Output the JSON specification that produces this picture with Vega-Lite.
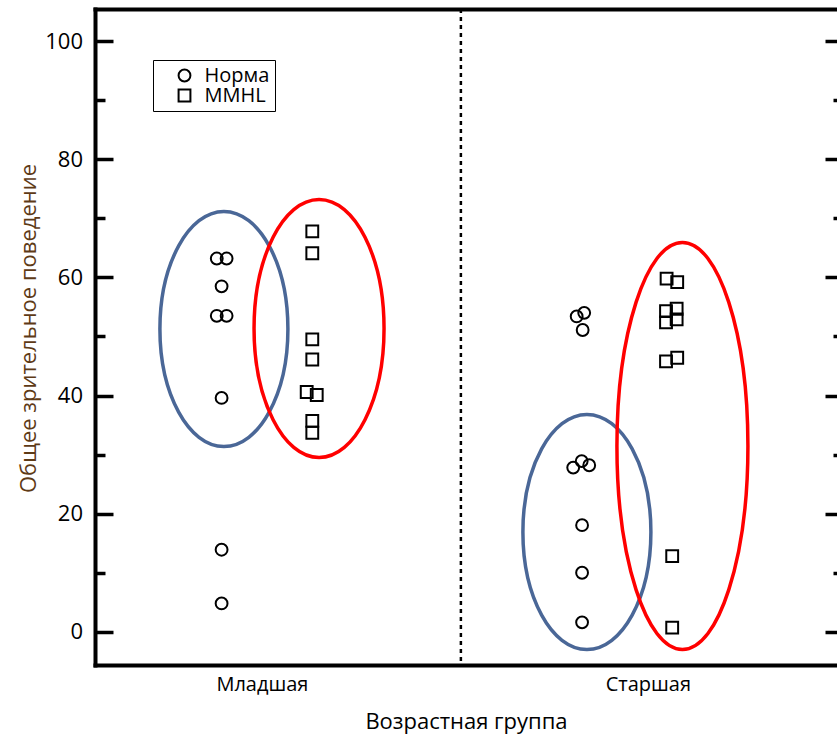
{
  "$schema": "https://vega.github.io/schema/vega-lite/v6.json",
  "width": 742,
  "height": 656,
  "autosize": {"type": "none"},
  "padding": {"left": 95, "top": 9, "right": 0, "bottom": 72},
  "background": "white",
  "config": {
    "view": {"stroke": null},
    "font": "Open Sans",
    "axis": {"domainColor": "black", "tickColor": "black", "labelColor": "black", "titleColor": "black", "grid": false, "domainCap": "square"}
  },
  "datasets": {
    "pts": [
      {"group": "Норма", "age": "Младшая", "x": 0.766, "y": 63.2},
      {"group": "Норма", "age": "Младшая", "x": 0.817, "y": 63.2},
      {"group": "Норма", "age": "Младшая", "x": 0.791, "y": 58.5},
      {"group": "Норма", "age": "Младшая", "x": 0.766, "y": 53.5},
      {"group": "Норма", "age": "Младшая", "x": 0.817, "y": 53.5},
      {"group": "Норма", "age": "Младшая", "x": 0.791, "y": 39.6},
      {"group": "Норма", "age": "Младшая", "x": 0.791, "y": 13.9},
      {"group": "Норма", "age": "Младшая", "x": 0.791, "y": 4.8},
      {"group": "MMHL", "age": "Младшая", "x": 1.261, "y": 67.8},
      {"group": "MMHL", "age": "Младшая", "x": 1.261, "y": 64.1},
      {"group": "MMHL", "age": "Младшая", "x": 1.261, "y": 49.5},
      {"group": "MMHL", "age": "Младшая", "x": 1.261, "y": 46.1},
      {"group": "MMHL", "age": "Младшая", "x": 1.232, "y": 40.6},
      {"group": "MMHL", "age": "Младшая", "x": 1.284, "y": 40.1},
      {"group": "MMHL", "age": "Младшая", "x": 1.261, "y": 35.7},
      {"group": "MMHL", "age": "Младшая", "x": 1.261, "y": 33.7},
      {"group": "Норма", "age": "Старшая", "x": 2.631, "y": 53.4},
      {"group": "Норма", "age": "Старшая", "x": 2.670, "y": 54.0},
      {"group": "Норма", "age": "Старшая", "x": 2.662, "y": 51.1},
      {"group": "Норма", "age": "Старшая", "x": 2.613, "y": 27.8},
      {"group": "Норма", "age": "Старшая", "x": 2.657, "y": 28.9},
      {"group": "Норма", "age": "Старшая", "x": 2.696, "y": 28.2},
      {"group": "Норма", "age": "Старшая", "x": 2.659, "y": 18.05},
      {"group": "Норма", "age": "Старшая", "x": 2.659, "y": 10.0},
      {"group": "Норма", "age": "Старшая", "x": 2.659, "y": 1.6},
      {"group": "MMHL", "age": "Старшая", "x": 3.097, "y": 59.8},
      {"group": "MMHL", "age": "Старшая", "x": 3.152, "y": 59.2},
      {"group": "MMHL", "age": "Старшая", "x": 3.149, "y": 54.7},
      {"group": "MMHL", "age": "Старшая", "x": 3.094, "y": 54.3},
      {"group": "MMHL", "age": "Старшая", "x": 3.149, "y": 52.9},
      {"group": "MMHL", "age": "Старшая", "x": 3.094, "y": 52.4},
      {"group": "MMHL", "age": "Старшая", "x": 3.094, "y": 45.8},
      {"group": "MMHL", "age": "Старшая", "x": 3.152, "y": 46.4},
      {"group": "MMHL", "age": "Старшая", "x": 3.126, "y": 12.8},
      {"group": "MMHL", "age": "Старшая", "x": 3.126, "y": 0.7}
    ],
    "ell": [
      {"name": "Норма-Младшая", "cx": 0.803, "cy": 51.27},
      {"name": "MMHL-Младшая", "cx": 1.296, "cy": 51.35},
      {"name": "Норма-Старшая", "cx": 2.684, "cy": 16.9},
      {"name": "MMHL-Старшая", "cx": 3.179, "cy": 31.46}
    ]
  },
  "layer": [
    {
      "data": {"name": "ell"},
      "mark": {"type": "point", "filled": false, "strokeWidth": 3.5, "size": 4, "opacity": 1},
      "encoding": {
        "x": {"field": "cx", "type": "quantitative", "scale": {"domain": [0.135, 3.98], "nice": false, "zero": false},
          "axis": {"orient": "bottom", "values": [1, 3], "labelExpr": "datum.value == 1 ? 'Младшая' : 'Старшая'", "ticks": false, "domainWidth": 4, "labelFontSize": 20, "labelPadding": 9, "labelFlush": false, "title": "Возрастная группа", "titleFontSize": 22, "titleFontWeight": "normal", "titleY": 56, "titleBaseline": "middle"}},
        "y": {"field": "cy", "type": "quantitative", "scale": {"domain": [-5.62, 105.45], "nice": false, "zero": false},
          "axis": {"orient": "left", "values": [0, 20, 40, 60, 80, 100], "tickSize": -18, "tickWidth": 3.5, "domainWidth": 4, "labelFontSize": 22, "labelPadding": 30.5, "title": "Общее зрительное поведение", "titleFontSize": 22, "titleFontWeight": "normal", "titleColor": "#5e3a16", "titleX": -67, "titleY": 319, "titleAngle": -90, "titleAlign": "center", "titleBaseline": "middle"}},
        "shape": {"field": "name", "type": "nominal", "legend": null,
          "scale": {"domain": ["Норма-Младшая", "MMHL-Младшая", "Норма-Старшая", "MMHL-Старшая"],
            "range": ["M -64 0 A 64 117.5 0 1 0 64 0 A 64 117.5 0 1 0 -64 0 Z", "M -65 0 A 65 129 0 1 0 65 0 A 65 129 0 1 0 -65 0 Z", "M -64 0 A 64 117.5 0 1 0 64 0 A 64 117.5 0 1 0 -64 0 Z", "M -65.5 0 A 65.5 203.5 0 1 0 65.5 0 A 65.5 203.5 0 1 0 -65.5 0 Z"]}},
        "stroke": {"field": "name", "type": "nominal", "legend": null,
          "scale": {"domain": ["Норма-Младшая", "MMHL-Младшая", "Норма-Старшая", "MMHL-Старшая"], "range": ["#4a6797", "#ff0000", "#4a6797", "#ff0000"]}}
      }
    },
    {
      "data": {"name": "pts"},
      "mark": {"type": "point", "filled": false, "strokeWidth": 2, "opacity": 1, "color": "black", "size": 140},
      "encoding": {
        "x": {"field": "x", "type": "quantitative", "scale": {"domain": [0.135, 3.98], "nice": false, "zero": false}, "axis": null},
        "y": {"field": "y", "type": "quantitative", "scale": {"domain": [-5.62, 105.45], "nice": false, "zero": false}, "axis": null},
        "shape": {"field": "group", "type": "nominal", "sort": null,
          "scale": {"domain": ["Норма", "MMHL"], "range": ["circle", "square"]},
          "legend": {"orient": "none", "legendX": 58, "legendY": 51, "title": null, "strokeColor": "black", "padding": 5.5, "symbolOffset": 16, "labelOffset": 10, "labelFontSize": 20, "labelColor": "black", "symbolSize": 140, "symbolStrokeWidth": 2, "symbolStrokeColor": "black", "symbolFillColor": "transparent", "rowPadding": 0,
            "encode": {"legend": {"update": {"strokeWidth": {"value": 2}}}}}}
      }
    },
    {
      "data": {"values": [{"x": 2.031}]},
      "mark": {"type": "rule", "strokeDash": [4, 4], "strokeWidth": 2.5, "color": "black"},
      "encoding": {
        "x": {"field": "x", "type": "quantitative", "scale": {"domain": [0.135, 3.98], "nice": false, "zero": false}, "axis": null}
      }
    },
    {
      "data": {"name": "pts"},
      "mark": {"type": "point", "opacity": 0},
      "encoding": {
        "x": {"field": "x", "type": "quantitative", "scale": {"domain": [0.135, 3.98], "nice": false, "zero": false},
          "axis": {"orient": "top", "labels": false, "ticks": false, "domain": true, "domainWidth": 4, "title": null}},
        "y": {"field": "y", "type": "quantitative", "scale": {"domain": [-5.62, 105.45], "nice": false, "zero": false},
          "axis": {"orient": "left", "values": [10, 30, 50, 70, 90], "labels": false, "domain": false, "tickSize": -10, "tickWidth": 3.5, "title": null}}
      }
    },
    {
      "data": {"name": "pts"},
      "mark": {"type": "point", "opacity": 0},
      "encoding": {
        "x": {"field": "x", "type": "quantitative", "scale": {"domain": [0.135, 3.98], "nice": false, "zero": false}, "axis": null},
        "y": {"field": "y", "type": "quantitative", "scale": {"domain": [-5.62, 105.45], "nice": false, "zero": false},
          "axis": {"orient": "right", "values": [0, 20, 40, 60, 80, 100], "labels": false, "domain": false, "tickSize": -12, "tickWidth": 3.5, "title": null}}
      }
    },
    {
      "data": {"name": "pts"},
      "mark": {"type": "point", "opacity": 0},
      "encoding": {
        "x": {"field": "x", "type": "quantitative", "scale": {"domain": [0.135, 3.98], "nice": false, "zero": false}, "axis": null},
        "y": {"field": "y", "type": "quantitative", "scale": {"domain": [-5.62, 105.45], "nice": false, "zero": false},
          "axis": {"orient": "right", "values": [10, 30, 50, 70, 90], "labels": false, "domain": false, "tickSize": -4, "tickWidth": 3.5, "title": null}}
      }
    }
  ],
  "resolve": {
    "scale": {"shape": "independent", "stroke": "independent"},
    "axis": {"x": "independent", "y": "independent"}
  }
}
